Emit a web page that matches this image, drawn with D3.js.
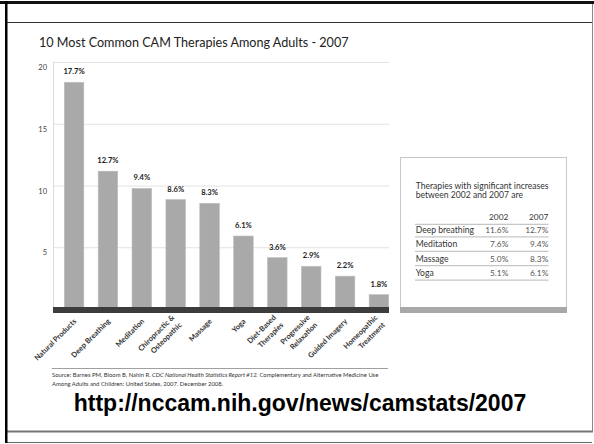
<!DOCTYPE html>
<html><head><meta charset="utf-8">
<script src="https://cdn.jsdelivr.net/npm/d3@7"></script>
<style>html,body{margin:0;padding:0;background:#fff;}svg{display:block;}</style>
</head><body>
<script>
// ---- data ----
const categories = ["Natural Products","Deep Breathing","Meditation","Chiropractic & Osteopathic","Massage","Yoga","Diet-Based Therapies","Progressive Relaxation","Guided Imagery","Homeopathic Treatment"];
const labelLines = [["Natural Products"],["Deep Breathing"],["Meditation"],["Chiropractic &","Osteopathic"],["Massage"],["Yoga"],["Diet-Based","Therapies"],["Progressive","Relaxation"],["Guided Imagery"],["Homeopathic","Treatment"]];
const barHeights = [18.4, 11.2, 9.8, 8.9, 8.6, 5.95, 4.2, 3.5, 2.7, 1.2];
const valueLabels = ["17.7%","12.7%","9.4%","8.6%","8.3%","6.1%","3.6%","2.9%","2.2%","1.8%"];
const yTicks = [5, 10, 15, 20];
const tableRows = ["Deep breathing","Meditation","Massage","Yoga"];
const tableYears = ["2002","2007"];
const values2002 = ["11.6%","7.6%","5.0%","5.1%"];
const values2007 = ["12.7%","9.4%","8.3%","6.1%"];

const W = 594, H = 444;
const sans = "'Lato','Open Sans',sans-serif";
const narrow = "'Liberation Sans Narrow','Lato',sans-serif";
const svg = d3.select("body").append("svg").attr("width", W).attr("height", H);
svg.append("rect").attr("width", W).attr("height", H).attr("fill", "#fff");

// frame
svg.append("rect").attr("x", 0).attr("y", 1).attr("width", W).attr("height", 3).attr("fill", "#111");
svg.append("line").attr("x1", 7).attr("x2", 593).attr("y1", 22.5).attr("y2", 22.5).attr("stroke", "#333").attr("stroke-width", 1);
svg.append("line").attr("x1", 592.5).attr("x2", 592.5).attr("y1", 4).attr("y2", 432).attr("stroke", "#888").attr("stroke-width", 1);
svg.append("rect").attr("x", 7).attr("y", 430.5).attr("width", 586).attr("height", 2).attr("fill", "#777");
svg.append("line").attr("x1", 7).attr("x2", 592).attr("y1", 442.5).attr("y2", 442.5).attr("stroke", "#666").attr("stroke-width", 1);
svg.append("rect").attr("x", 5).attr("y", 1).attr("width", 2.5).attr("height", 442).attr("fill", "#000");

// title
svg.append("text").attr("x", 39).attr("y", 47).attr("font-family", sans).attr("font-size", 12.6)
  .attr("fill", "#222").text("10 Most Common CAM Therapies Among Adults - 2007");

// scales
const x = d3.scaleBand().domain(categories).range([64.3, 388.7]).paddingInner(0.423).paddingOuter(0);
const y = d3.scaleLinear().domain([0, 20]).range([309.5, 62.5]);
const plotL = 53, plotR = 389;

// grid
const g = svg.append("g");
g.selectAll("line.grid").data(yTicks).join("line")
  .attr("x1", plotL).attr("x2", plotR).attr("y1", d => y(d)).attr("y2", d => y(d))
  .attr("stroke", "#e2e2e2").attr("stroke-width", 1);
g.append("line").attr("x1", plotL + 0.5).attr("x2", plotL + 0.5).attr("y1", y(20)).attr("y2", 307)
  .attr("stroke", "#dcdcdc").attr("stroke-width", 1);

// y axis labels
const yAxis = d3.axisLeft(y).tickValues(yTicks).tickSize(0).tickPadding(0);
const ya = svg.append("g").attr("transform", "translate(47,0)").call(yAxis);
ya.select(".domain").remove();
ya.selectAll("text").attr("font-family", narrow).attr("font-size", 7.5).attr("fill", "#444").attr("dy", "0.95em");

// bars
svg.selectAll("rect.bar").data(categories).join("rect").attr("class", "bar")
  .attr("x", d => x(d)).attr("width", x.bandwidth())
  .attr("y", (d, i) => y(barHeights[i])).attr("height", (d, i) => y(0) - y(barHeights[i]))
  .attr("fill", "#a9a9a9").attr("stroke", "#bdbdbd").attr("stroke-width", 0.6);

// baseline band
svg.append("rect").attr("x", plotL).attr("y", 307).attr("width", plotR - plotL).attr("height", 6).attr("fill", "#3c3c3c");

// value labels
svg.selectAll("text.val").data(categories).join("text").attr("class", "val")
  .attr("x", d => x(d) + x.bandwidth() / 2).attr("y", (d, i) => y(barHeights[i]) - 8)
  .attr("text-anchor", "middle").attr("font-family", narrow).attr("font-weight", "bold")
  .attr("font-size", 7.6).attr("fill", "#222").text((d, i) => valueLabels[i]);

// x labels
const xl = svg.selectAll("g.xl").data(categories).join("g").attr("class", "xl")
  .attr("transform", d => `translate(${x(d) + x.bandwidth() / 2 + 1},${320}) rotate(-45)`);
xl.each(function(d, i) {
  const lines = labelLines[i];
  const n = lines.length;
  const lh = 10.5;
  d3.select(this).selectAll("text").data(lines).join("text")
    .attr("x", 0).attr("y", (l, j) => (j - (n - 1) / 2) * lh + 2.5)
    .attr("text-anchor", "end").attr("font-family", narrow).attr("font-weight", "bold")
    .attr("font-size", 7.4).attr("fill", "#333").text(l => l);
});

// source
svg.append("line").attr("x1", 51.7).attr("x2", 388).attr("y1", 368.5).attr("y2", 368.5).attr("stroke", "#888").attr("stroke-width", 0.8);
const src1 = svg.append("text").attr("x", 52).attr("y", 377).attr("font-family", sans).attr("font-size", 5.9).attr("fill", "#333");
src1.append("tspan").text("Source: Barnes PM, Bloom B, Nahin R. ");
src1.append("tspan").attr("font-style", "italic").text("CDC National Health Statistics Report #12.");
src1.append("tspan").text(" Complementary and Alternative Medicine Use");
svg.append("text").attr("x", 52).attr("y", 386).attr("font-family", sans).attr("font-size", 5.9).attr("fill", "#333")
  .text("Among Adults and Children: United States, 2007. December 2008.");

// URL
svg.append("text").attr("x", 300).attr("y", 411).attr("text-anchor", "middle")
  .attr("font-family", "'Liberation Sans',Arial,sans-serif").attr("font-weight", "bold").attr("font-size", 23)
  .attr("fill", "#000").text("http://nccam.nih.gov/news/camstats/2007");

// side table
const tb = svg.append("g");
tb.append("rect").attr("x", 400.5).attr("y", 157.5).attr("width", 166).attr("height", 155).attr("fill", "#fff").attr("stroke", "#c8c8c8").attr("stroke-width", 1);
tb.append("rect").attr("x", 400).attr("y", 307).attr("width", 167).attr("height", 6).attr("fill", "#a8a8a8");
tb.append("text").attr("x", 415.7).attr("y", 189).attr("font-family", sans).attr("font-size", 8.6).attr("fill", "#333").text("Therapies with significant increases");
tb.append("text").attr("x", 415.7).attr("y", 197.7).attr("font-family", sans).attr("font-size", 8.6).attr("fill", "#333").text("between 2002 and 2007 are");
const colX = [508.3, 548.3];
tb.selectAll("text.yr").data(tableYears).join("text").attr("class", "yr")
  .attr("x", (d, i) => colX[i]).attr("y", 219.7).attr("text-anchor", "end")
  .attr("font-family", sans).attr("font-size", 8.3).attr("fill", "#333").text(d => d);
const rowY = d3.scaleLinear().domain([0, 1]).range([232.7, 247.1]);
const lineY = [224.3].concat(tableRows.map((d, i) => rowY(i) + 4.2));
tb.selectAll("line.rl").data(lineY).join("line").attr("class", "rl")
  .attr("x1", 415).attr("x2", 548.5).attr("y1", d => d).attr("y2", d => d).attr("stroke", "#999").attr("stroke-width", 0.7);
tb.selectAll("text.rn").data(tableRows).join("text").attr("class", "rn")
  .attr("x", 415.7).attr("y", (d, i) => rowY(i)).attr("font-family", sans).attr("font-size", 8.6).attr("fill", "#333").text(d => d);
tb.selectAll("text.v2").data(values2002).join("text").attr("class", "v2")
  .attr("x", colX[0]).attr("y", (d, i) => rowY(i)).attr("text-anchor", "end").attr("font-family", sans).attr("font-size", 8.3).attr("fill", "#555").text(d => d);
tb.selectAll("text.v7").data(values2007).join("text").attr("class", "v7")
  .attr("x", colX[1]).attr("y", (d, i) => rowY(i)).attr("text-anchor", "end").attr("font-family", sans).attr("font-size", 8.3).attr("fill", "#555").text(d => d);
</script>
</body></html>
